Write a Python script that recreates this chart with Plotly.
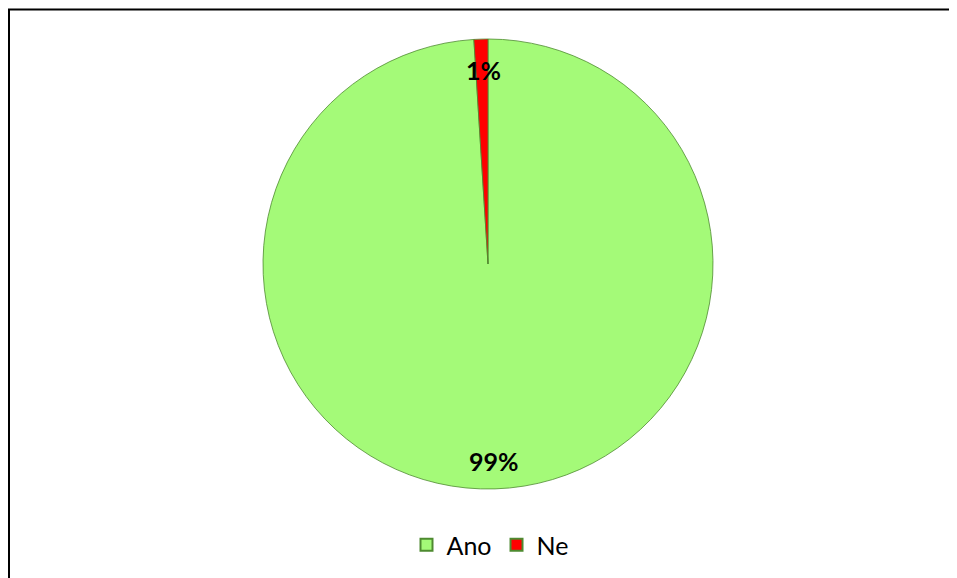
import plotly.graph_objects as go

labels = ["Ano", "Ne"]
values = [99, 1]
colors = ["#A4FA78", "#FF0000"]

# page has an 8px body margin; figure sized to fit the window
OFF = 8
W, H = 957 - OFF, 578 - OFF
total = sum(values)
pct = [f"{round(v / total * 100)}%" for v in values]


def px(x):
    return (x - OFF) / W


def py(y):
    return 1 - (y - OFF) / H


fig = go.Figure(go.Pie(
    labels=labels, values=values, sort=False, direction="clockwise", rotation=0,
    marker=dict(colors=colors, line=dict(color="#4E8A30", width=0.8)),
    textinfo="none", hoverinfo="label+percent",
    domain=dict(x=[px(263), px(713)], y=[py(489), py(39)]),
))

lab_font = dict(family="Lato, Carlito, sans-serif", size=25, color="black")
fig.add_annotation(x=px(483), y=py(70), xref="paper", yref="paper",
                   xanchor="center", yanchor="middle",
                   text=f"<b>{pct[1]}</b>", showarrow=False, font=lab_font)
fig.add_annotation(x=px(494), y=py(461), xref="paper", yref="paper",
                   xanchor="center", yanchor="middle",
                   text=f"<b>{pct[0]}</b>", showarrow=False, font=lab_font)

fig.add_shape(type="rect", xref="paper", yref="paper",
              x0=1 / W, x1=1.2, y0=-0.2, y1=1 - 1.5 / H,
              line=dict(color="black", width=2), layer="above")

fig.update_layout(
    width=W, height=H, margin=dict(l=0, r=0, t=0, b=0),
    paper_bgcolor="white", plot_bgcolor="white",
    showlegend=True,
    legend=dict(orientation="h", x=px(490), xanchor="center", y=py(545), yanchor="middle",
                font=dict(family="Lato, Carlito, sans-serif", size=25, color="black"),
                itemsizing="constant"),
)

fig.write_html("out.html")
